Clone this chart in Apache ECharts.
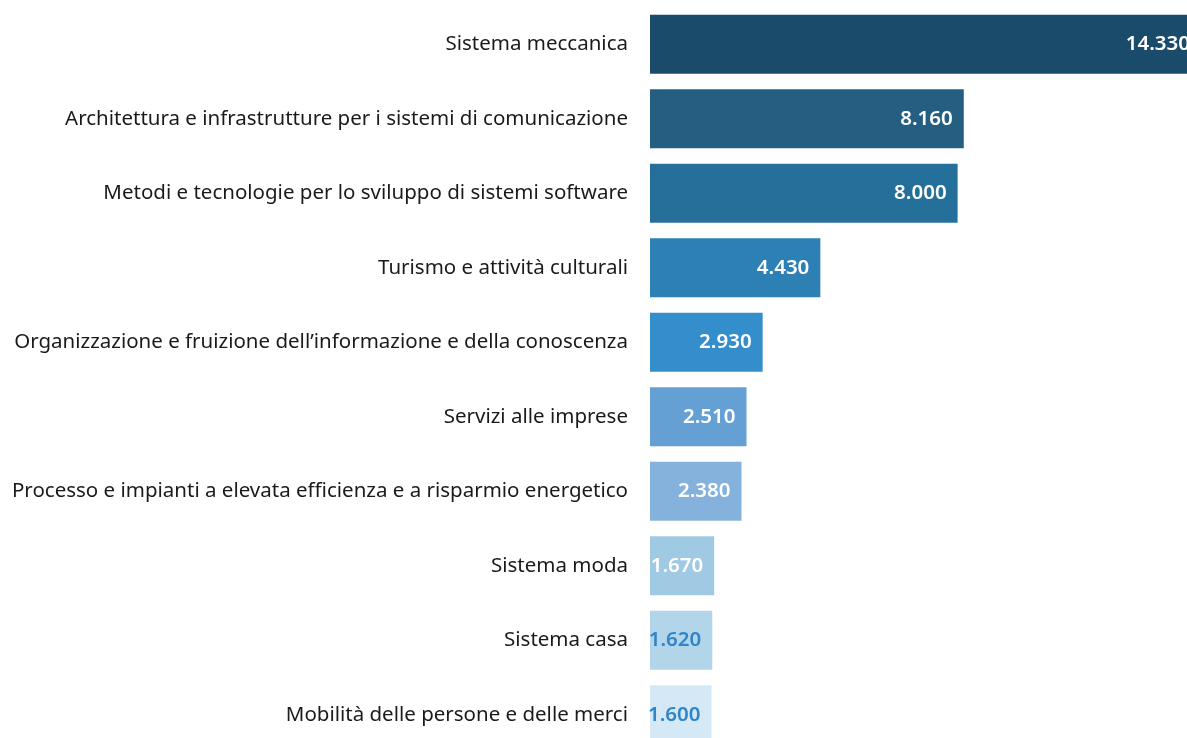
<!DOCTYPE html>
<html>
<head>
<meta charset="utf-8">
<script src="https://cdn.jsdelivr.net/npm/echarts@6/dist/echarts.min.js"></script>
<style>
html,body{margin:0;padding:0;background:#fff;overflow:hidden;}
#chart{width:1187px;height:738px;}
</style>
</head>
<body>
<div id="chart"></div>
<script>
const categories = [
  "Sistema meccanica",
  "Architettura e infrastrutture per i sistemi di comunicazione",
  "Metodi e tecnologie per lo sviluppo di sistemi software",
  "Turismo e attività culturali",
  "Organizzazione e fruizione dell’informazione e della conoscenza",
  "Servizi alle imprese",
  "Processo e impianti a elevata efficienza e a risparmio energetico",
  "Sistema moda",
  "Sistema casa",
  "Mobilità delle persone e delle merci"
];
const values = [14330, 8160, 8000, 4430, 2930, 2510, 2380, 1670, 1620, 1600];
const barColors = ["#1B4B6B", "#245F82", "#24709B", "#2D80B4", "#338ECB", "#65A0D5", "#85B2DD", "#A0CAE3", "#B3D5EA", "#D5E8F5"];
const labelColors = ["#fff", "#fff", "#fff", "#fff", "#fff", "#fff", "#fff", "#fff", "#2E86C8", "#2E86C8"];

const fmt = v => String(v).replace(/\B(?=(\d{3})+(?!\d))/g, ".");

const chart = echarts.init(document.getElementById('chart'));
chart.setOption({
  animation: false,
  backgroundColor: '#fff',
  grid: { left: 650, top: 7, width: 551, height: 745, containLabel: false, outerBoundsMode: 'none' },
  xAxis: {
    type: 'value', min: 0, max: 14330,
    show: false
  },
  yAxis: {
    type: 'category', data: categories, inverse: true,
    axisLine: { show: false }, axisTick: { show: false }, splitLine: { show: false },
    axisLabel: { margin: 22, color: '#1a1a1a', fontFamily: 'Noto Sans', fontSize: 20.5 }
  },
  series: [{
    type: 'bar',
    barCategoryGap: '21%',
    data: values.map((v, i) => ({
      value: v,
      itemStyle: { color: barColors[i] },
      label: { color: labelColors[i] }
    })),
    label: {
      show: true, position: 'insideRight', distance: 11,
      fontFamily: 'Noto Sans', fontWeight: 600, fontSize: 20.5,
      formatter: p => fmt(p.value)
    }
  }]
});
</script>
</body>
</html>
